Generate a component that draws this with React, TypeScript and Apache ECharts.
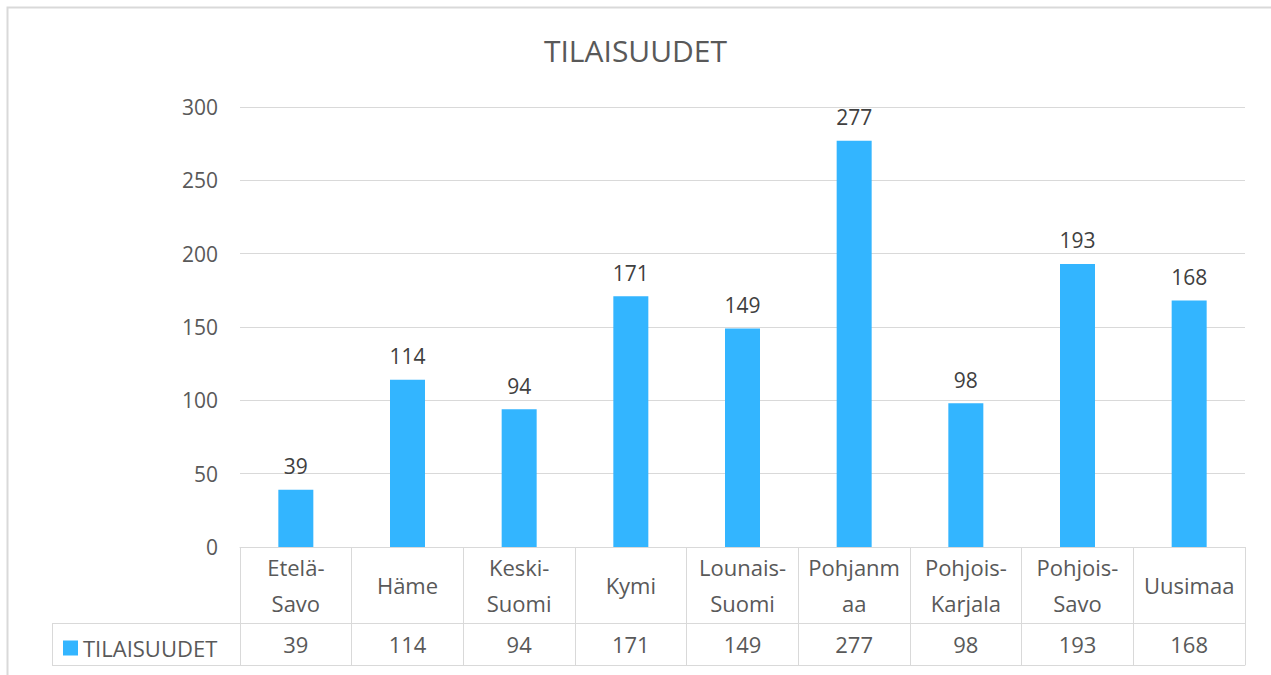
import React, { useEffect, useRef } from "react";
import * as echarts from "echarts";

const TITLE = "TILAISUUDET";
const SERIES_NAME = "TILAISUUDET";
const categories = [
  "Etelä-Savo",
  "Häme",
  "Keski-Suomi",
  "Kymi",
  "Lounais-Suomi",
  "Pohjanmaa",
  "Pohjois-Karjala",
  "Pohjois-Savo",
  "Uusimaa",
];
const categoryLabels = [
  "Etelä-\nSavo",
  "Häme",
  "Keski-\nSuomi",
  "Kymi",
  "Lounais-\nSuomi",
  "Pohjanm\naa",
  "Pohjois-\nKarjala",
  "Pohjois-\nSavo",
  "Uusimaa",
];
const values = [39, 114, 94, 171, 149, 277, 98, 193, 168];
const yTicks = { min: 0, max: 300, interval: 50 };

const FONT = "'Open Sans', sans-serif";
const TEXT = "#595959";
const DARK = "#404040";
const LINE = "#d9d9d9";
const BAR = "#33b5ff";

export default function App() {
  const ref = useRef<HTMLDivElement>(null);
  useEffect(() => {
    if (!ref.current) return;
    const chart = echarts.init(ref.current, null, { renderer: "svg" });
    const gridLeft = 240;
    const gridRight = 26;
    const gridTop = 107;
    const gridBottom = 128;
    const axisY = 675 - gridBottom;
    const rowH1 = 76;
    const rowH2 = 42;
    chart.setOption({
      animation: false,
      textStyle: { fontFamily: FONT },
      title: {
        text: TITLE,
        left: "center",
        top: 30,
        textStyle: { fontFamily: FONT, fontSize: 30, fontWeight: "normal", color: TEXT },
      },
      legend: {
        left: 58,
        top: axisY + rowH1 + 9,
        icon: "rect",
        itemWidth: 15,
        itemHeight: 15,
        itemGap: 8,
        textStyle: { fontFamily: FONT, fontSize: 22, color: TEXT },
        data: [SERIES_NAME],
      },
      grid: { left: gridLeft, right: gridRight, top: gridTop, bottom: gridBottom },
      xAxis: [
        {
          type: "category",
          data: categories,
          position: "bottom",
          axisLine: { show: true, lineStyle: { color: LINE, width: 1 } },
          axisTick: { show: true, length: rowH1 + rowH2, lineStyle: { color: LINE, width: 1 } },
          axisLabel: {
            interval: 0,
            margin: rowH1 / 2,
            verticalAlign: "middle",
            lineHeight: 36,
            fontSize: 22,
            color: TEXT,
            fontFamily: FONT,
            formatter: (_v: string, i: number) => categoryLabels[i],
          },
        },
        {
          type: "category",
          data: categories,
          position: "bottom",
          offset: rowH1,
          axisLine: { show: true, lineStyle: { color: LINE, width: 1 } },
          axisTick: { show: false },
          axisLabel: {
            interval: 0,
            margin: rowH2 / 2,
            verticalAlign: "middle",
            fontSize: 22,
            color: TEXT,
            fontFamily: FONT,
            formatter: (_v: string, i: number) => String(values[i]),
          },
        },
        {
          type: "category",
          data: categories,
          position: "bottom",
          offset: rowH1 + rowH2,
          axisLine: { show: true, lineStyle: { color: LINE, width: 1 } },
          axisTick: { show: false },
          axisLabel: { show: false },
        },
      ],
      yAxis: {
        type: "value",
        min: yTicks.min,
        max: yTicks.max,
        interval: yTicks.interval,
        axisLine: { show: false },
        axisTick: { show: false },
        axisLabel: { fontSize: 21, color: TEXT, fontFamily: FONT, margin: 22 },
        splitLine: { lineStyle: { color: LINE, width: 1 } },
      },
      series: [
        {
          name: SERIES_NAME,
          type: "bar",
          xAxisIndex: 0,
          data: values,
          barWidth: 35,
          itemStyle: { color: BAR },
          label: {
            show: true,
            position: "top",
            distance: 13,
            fontSize: 21,
            color: DARK,
            fontFamily: FONT,
          },
        },
      ],
      graphic: [
        {
          type: "rect",
          shape: { x: 7.5, y: 7.5, width: 1300, height: 700 },
          style: { fill: "none", stroke: LINE, lineWidth: 2 },
          silent: true,
        },
        {
          type: "line",
          shape: { x1: 52, y1: axisY + rowH1 + 0.5, x2: gridLeft, y2: axisY + rowH1 + 0.5 },
          style: { stroke: LINE, lineWidth: 1 },
        },
        {
          type: "line",
          shape: { x1: 52, y1: axisY + rowH1 + rowH2 + 0.5, x2: gridLeft, y2: axisY + rowH1 + rowH2 + 0.5 },
          style: { stroke: LINE, lineWidth: 1 },
        },
        {
          type: "line",
          shape: { x1: 52.5, y1: axisY + rowH1, x2: 52.5, y2: axisY + rowH1 + rowH2 },
          style: { stroke: LINE, lineWidth: 1 },
        },
      ],
    });
    return () => chart.dispose();
  }, []);
  return (
    <div
      ref={ref}
      style={{ position: "fixed", left: 0, top: 0, width: 1271, height: 675, background: "#fff" }}
    />
  );
}
